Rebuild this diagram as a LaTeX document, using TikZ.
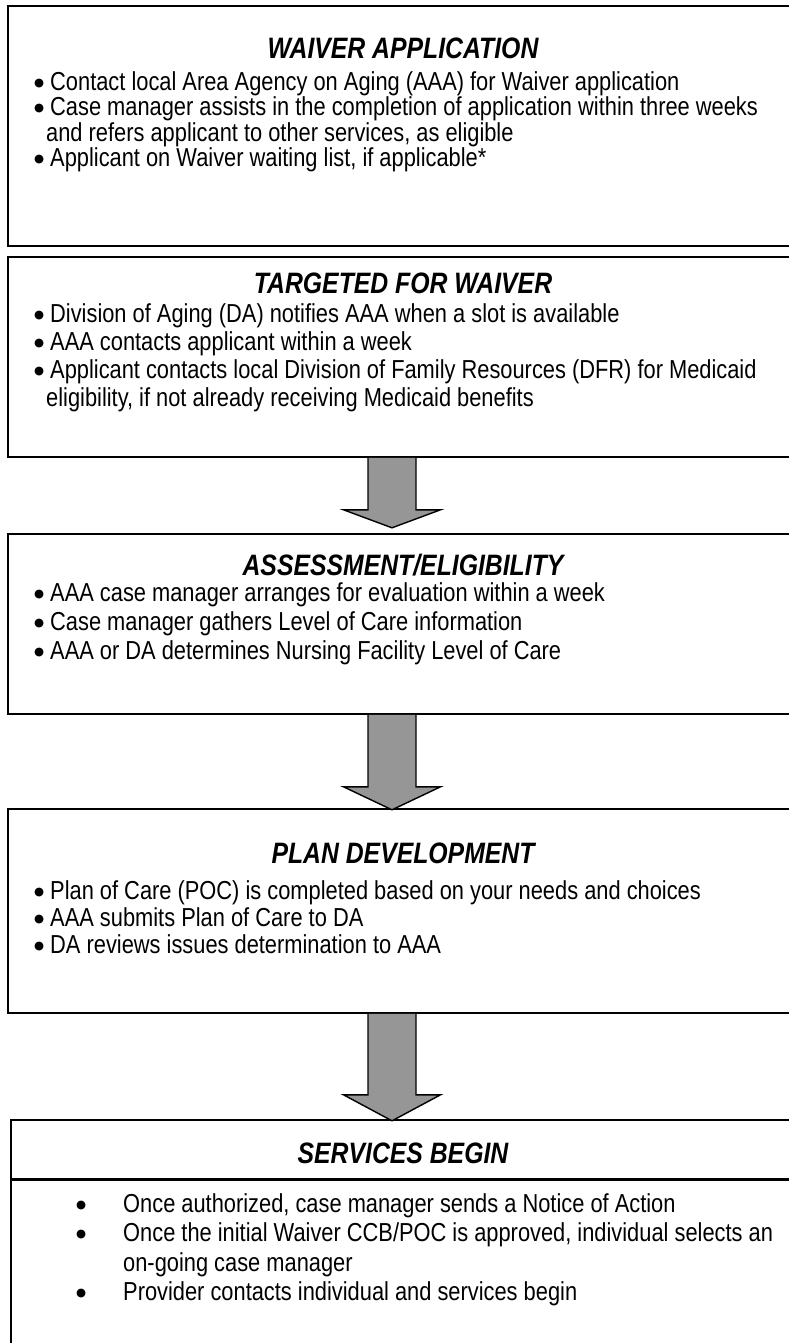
\documentclass[tikz,border=0pt]{standalone}
\usepackage{fontspec}
\setmainfont{Liberation Sans}[FakeStretch=0.84]
\newfontfamily\symfont{DejaVu Sans}
\usetikzlibrary{calc}
\usepackage{xcolor}
\definecolor{arrowGray}{RGB}{150,150,150}

\newcommand\blt[1][16pt]{\makebox[#1][l]{\raisebox{4pt}{\symfont\fontsize{11.5}{12}\selectfont ●}}}

\tikzset{
  stagebox/.style={draw, line width=1.8pt, anchor=north west, minimum width=800pt, inner sep=0pt},
  stagetitle/.style={inner sep=0pt, font=\fontsize{29.5}{32}\selectfont\bfseries\itshape},
  stagelist/.style={anchor=north west, align=left, inner sep=0pt, font=\fontsize{26}{#1}\selectfont},
  stagelist/.default=27,
  blockarrow/.style={draw, line width=1.4pt, fill=arrowGray, line join=miter},
}

\begin{document}
\begin{tikzpicture}[x=1pt,y=-1pt]
    \newcommand\ax{392}
    \newcommand\shaft{24}
    \newcommand\head{48.5}
    \newcommand\tx{403}
    \newcommand\fatarrow[3]{%
      \draw[blockarrow] ($(axis |- #1.south)+(-\shaft,0)$) -- ++(0,#2) -- ++(\shaft-\head,0)
        -- ++(\head,#3) -- ++(\head,-#3) -- ++(\shaft-\head,0) -- ++(0,-#2);}

    \useasboundingbox (0,0) rectangle (789,1343);
    \clip (0,0) rectangle (789,1343);
    \coordinate (axis) at (\ax,0);

    % waiver application
    \node[stagebox, minimum height=240pt] (appbox) at (7,5) {};
    \node[stagetitle] (apptitle) at (\tx,48) {WAIVER APPLICATION};
    \node[stagelist=25.5] (applist) at (34,71) {\blt Contact local Area Agency on Aging (AAA) for Waiver application\\
      \blt Case manager assists in the completion of application within three weeks\\
      \hspace*{12pt}and refers applicant to other services, as eligible\\
      \blt Applicant on Waiver waiting list, if applicable*};

    % targeted for waiver
    \node[stagebox, minimum height=200pt] (tgtbox) at (7,256) {};
    \node[stagetitle] (tgttitle) at (\tx,283) {TARGETED FOR WAIVER};
    \node[stagelist=28] (tgtlist) at (34,303) {\blt Division of Aging (DA) notifies AAA when a slot is available\\
      \blt AAA contacts applicant within a week\\
      \blt Applicant contacts local Division of Family Resources (DFR) for Medicaid\\
      \hspace*{12pt}eligibility, if not already receiving Medicaid benefits};

    % assessment
    \node[stagebox, minimum height=180pt] (asmbox) at (7,533) {};
    \node[stagetitle] (asmtitle) at (\tx,565) {ASSESSMENT/ELIGIBILITY};
    \node[stagelist=29] (asmlist) at (34,582) {\blt AAA case manager arranges for evaluation within a week\\
      \blt Case manager gathers Level of Care information\\
      \blt AAA or DA determines Nursing Facility Level of Care};

    % plan development
    \node[stagebox, minimum height=204pt] (planbox) at (7,808) {};
    \node[stagetitle] (plantitle) at (\tx,853) {PLAN DEVELOPMENT};
    \node[stagelist=27] (planlist) at (34,880) {\blt Plan of Care (POC) is completed based on your needs and choices\\
      \blt AAA submits Plan of Care to DA\\
      \blt DA reviews issues determination to AAA};

    % services begin
    \node[stagebox, line width=2.2pt, minimum height=300pt] (servbox) at (10,1119) {};
    \node[stagetitle] (servtitle) at (\tx,1153) {SERVICES BEGIN};
    \coordinate (sep) at (0,1179);
    \draw[line width=3pt] (servbox.west |- sep) -- (servbox.east |- sep);
    \node[stagelist=29.5] (servlist) at (76,1193) {\blt[47pt]Once authorized, case manager sends a Notice of Action\\
      \blt[47pt]Once the initial Waiver CCB/POC is approved, individual selects an\\
      \hspace*{47pt}on-going case manager\\
      \blt[47pt]Provider contacts individual and services begin};

    % draw arrow
    \fatarrow{tgtbox}{52}{18}
    \fatarrow{asmbox}{72}{23}
    \fatarrow{planbox}{81}{26}
\end{tikzpicture}
\end{document}
